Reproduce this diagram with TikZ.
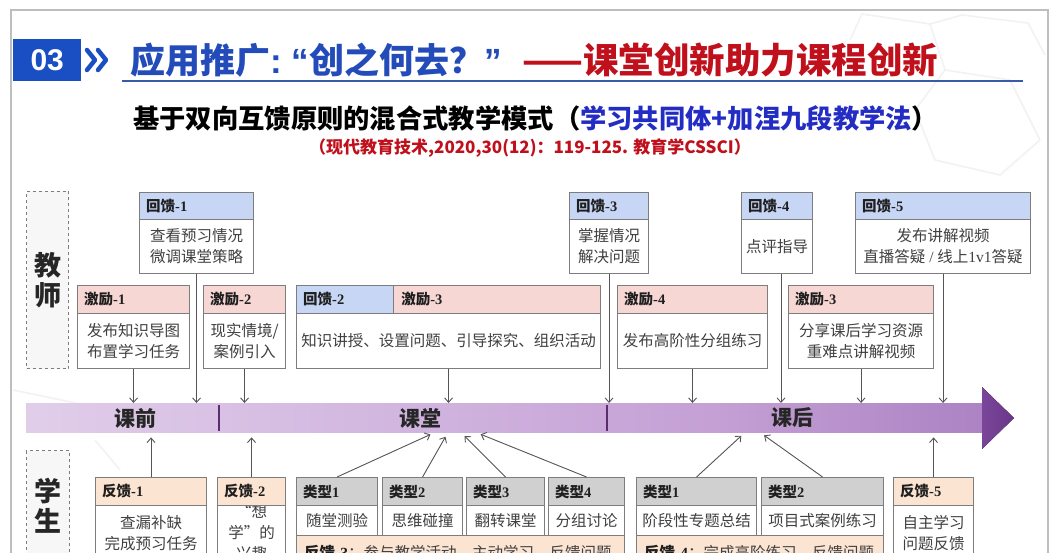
\documentclass[tikz,border=0pt]{standalone}
\usepackage{fontspec}
\setmainfont{Noto Sans CJK SC}
\newfontfamily\ser{Liberation Serif}
\newfontfamily\lsans{Liberation Sans}
\usetikzlibrary{arrows.meta,calc}
\definecolor{bord}{RGB}{125,125,125}
\definecolor{hblue}{RGB}{200,214,245}
\definecolor{hpink}{RGB}{247,215,212}
\definecolor{hpeach}{RGB}{251,228,209}
\definecolor{hgrey}{RGB}{208,208,208}
\definecolor{numblue}{RGB}{26,79,196}
\definecolor{tblue}{RGB}{35,75,185}
\definecolor{sblue}{RGB}{35,45,195}
\definecolor{tred}{RGB}{192,16,28}
\definecolor{ulblue}{RGB}{58,90,168}
\definecolor{arrc}{RGB}{85,85,85}
\definecolor{sepc}{RGB}{90,45,110}
\definecolor{hexc}{RGB}{242,242,242}
\definecolor{frame}{RGB}{190,190,190}
\definecolor{b1}{RGB}{240,232,244}
\definecolor{b2}{RGB}{228,212,236}
\definecolor{b3}{RGB}{212,186,225}
\definecolor{b4}{RGB}{196,160,213}
\definecolor{b5}{RGB}{164,120,189}
\definecolor{b6}{RGB}{122,70,153}
\definecolor{b7}{RGB}{106,54,138}
\pgfdeclarehorizontalshading{bandsh}{100bp}{color(0bp)=(b1); color(20bp)=(b2); color(41bp)=(b3); color(61bp)=(b4); color(80bp)=(b5); color(100bp)=(b6)}
\newcommand\hd[2]{{\bfseries #1}{\ser\bfseries #2}}
\newcommand\tbox[9]{%
  \node[bdy, minimum width=#4, minimum height=#6, anchor=north west] (#1b) at (#2,{#3+#5}) {};
  \node[bdytxt] (#1c) at (#1b.center) {#9};
  \node[hdr, fill=#7, minimum width=#4, minimum height=#5, anchor=north west] (#1h) at (#2,#3) {};
  \node[hdrtxt] (#1t) at ($(#1h.west)+(7,0)$) {#8};
}
\begin{document}
\begin{tikzpicture}[x=1pt,y=-1pt,
  hdr/.style={draw=bord, line width=1.1pt, inner sep=0pt},
  bdy/.style={draw=bord, line width=1.1pt, fill=white, inner sep=0pt},
  hdrtxt/.style={anchor=west, inner sep=0pt, font=\fontsize{14.5}{14.5}\selectfont, text=black!88},
  bdytxt/.style={align=center, inner sep=0pt, font=\fontsize{15.5}{21}\selectfont, text=black!75},
  arr/.style={draw=arrc, line width=0.9pt, -{Straight Barb[length=4.5pt,width=8pt]}},
  dashbox/.style={draw=bord, dashed, line width=1pt, fill=black!3, inner sep=0pt},
  roletxt/.style={align=center, inner sep=0pt, font=\bfseries\fontsize{27}{30}\selectfont, text=black!85},
  bandlbl/.style={inner sep=0pt, font=\bfseries\fontsize{21}{21}\selectfont, text=black!85},
  sepline/.style={draw=sepc, line width=2.4pt},
  hexline/.style={draw=hexc, line width=1.6pt},
  chev/.style={draw=numblue, line width=4.5pt, line cap=round, line join=round}
]
\useasboundingbox (0,0) rectangle (1051,553);
\clip (0,0) rectangle (1051,553);
\fill[white] (0,0) rectangle (1051,553);
% faint background lines
\draw[hexline] (962,15) -- (1028,23) -- (1045,55);
\draw[hexline] (850,40) -- (862,14) -- (930,24) -- (962,15);
\draw[hexline] (930,24) -- (945,70) -- (915,110) -- (935,160) -- (1000,175) -- (1040,140);
\draw[hexline] (945,70) -- (1010,80) -- (1040,140);
\draw[hexline] (13,390) -- (85,405);
\draw[hexline] (95,440) -- (120,470);
% frame
\draw[frame, line width=1.5pt] (11,10) rectangle (1048,620);
% title
\node[fill=numblue, minimum width=68, minimum height=42, anchor=north west, inner sep=0pt] (num) at (13,39) {};
\node[inner sep=0pt, text=white, font=\lsans\bfseries\fontsize{30}{30}\selectfont] (numt) at (num.center) {03};
\draw[chev] (87,50) -- (95,60) -- (87,70);
\draw[chev] (98,50) -- (106,60) -- (98,70);
\node[anchor=west, inner sep=0pt, text=tblue, font=\bfseries\fontsize{35}{35}\selectfont] (t1) at (130,60) {应用推广{\lsans\bfseries :\hspace{10pt}“}创之何去？{\lsans\bfseries ”}};
\node[anchor=west, inner sep=0pt, text=tred, font=\bfseries\fontsize{35.5}{35.5}\selectfont] (t2) at (522,60) {——课堂创新助力课程创新};
\draw[ulblue, line width=2pt] (122,81) -- (1023,81);
\node[anchor=west, inner sep=0pt, font=\bfseries\fontsize{26.3}{26.3}\selectfont] (st) at (133,118) {基于双向互馈原则的混合式教学模式（\textcolor{sblue}{学习共同体+加涅九段教学法}）};
\node[inner sep=0pt, text=tred, font=\bfseries\fontsize{17}{17}\selectfont] (cite) at (530,148) {（现代教育技术,2020,30(12)：119-125. 教育学CSSCI）};
% role boxes
\node[dashbox, minimum width=42, minimum height=177, anchor=north west] (tbx) at (26,191) {};
\node[roletxt] (ttx) at (tbx.center) {教\\师};
\node[dashbox, minimum width=43, minimum height=160, anchor=north west] (sbx) at (26,450) {};
\node[roletxt] (stx) at (47.5,506) {学\\生};
% band
\node[shading=bandsh, minimum width=957, minimum height=29, inner sep=0pt, anchor=north west] (band) at (26,403) {};
\fill[left color=b6, right color=b7] (982,387) -- (1014,418) -- (982,449) -- cycle;
\draw[sepline] (219,405) -- (219,431);
\draw[sepline] (607,405) -- (607,431);
\node[bandlbl] (lb1) at (135,418) {课前};
\node[bandlbl] (lb2) at (420,418) {课堂};
\node[bandlbl] (lb3) at (792,418) {课后};
% teacher row 1
\tbox{r1}{139}{192}{114}{27}{54}{hblue}{\hd{回馈}{-1}}{查看预习情况\\微调课堂策略}
\tbox{r3}{569}{192}{79}{27}{54}{hblue}{\hd{回馈}{-3}}{掌握情况\\解决问题}
\tbox{r4}{741}{192}{71}{27}{54}{hblue}{\hd{回馈}{-4}}{点评指导}
\tbox{r5}{855}{192}{175}{27}{54}{hblue}{\hd{回馈}{-5}}{发布讲解视频\\直播答疑{\ser\ /\ }线上{\ser 1v1}答疑}
% teacher row 2
\tbox{e1}{77}{285}{112}{28}{55}{hpink}{\hd{激励}{-1}}{发布知识导图\\布置学习任务}
\tbox{e2}{203}{285}{82}{28}{55}{hpink}{\hd{激励}{-2}}{现实情境/\\案例引入}
\tbox{e3}{296}{285}{304}{28}{55}{hpink}{}{知识讲授、设置问题、引导探究、组织活动}
\node[hdr, fill=hblue, minimum width=97, minimum height=28, anchor=north west] (e3x) at (296,285) {};
\node[hdrtxt] (e3xt) at ($(e3x.west)+(7,0)$) {\hd{回馈}{-2}};
\node[hdrtxt] (e3yt) at ($(e3x.east)+(7,0)$) {\hd{激励}{-3}};
\tbox{e4}{617}{285}{150}{28}{55}{hpink}{\hd{激励}{-4}}{发布高阶性分组练习}
\tbox{e5}{788}{285}{145}{28}{55}{hpink}{\hd{激励}{-3}}{分享课后学习资源\\重难点讲解视频}
% student row
\tbox{f1}{95}{477}{111}{28}{55}{hpeach}{\hd{反馈}{-1}}{查漏补缺\\完成预习任务}
\tbox{f2}{217}{477}{68}{28}{54}{hpeach}{\hd{反馈}{-2}}{“想\\学”的\\兴趣}
\tbox{k1}{296}{477}{81}{28}{30}{hgrey}{\hd{类型}{1}}{随堂测验}
\tbox{k2}{382}{477}{80}{28}{30}{hgrey}{\hd{类型}{2}}{思维碰撞}
\tbox{k3}{466}{477}{78}{28}{30}{hgrey}{\hd{类型}{3}}{翻转课堂}
\tbox{k4}{548}{477}{76}{28}{30}{hgrey}{\hd{类型}{4}}{分组讨论}
\tbox{k5}{636}{477}{120}{28}{30}{hgrey}{\hd{类型}{1}}{阶段性专题总结}
\tbox{k6}{761}{477}{122}{28}{30}{hgrey}{\hd{类型}{2}}{项目式案例练习}
\tbox{f5}{893}{477}{80}{28}{55}{hpeach}{\hd{反馈}{-5}}{自主学习\\问题反馈}
\node[bdy, fill=hpeach, minimum width=328, minimum height=40, anchor=north west] (f3) at (296,535) {};
\node[anchor=west, inner sep=0pt, font=\fontsize{15.5}{15.5}\selectfont, text=black!75] (f3t) at (304,553) {{\color{black!88}\hd{反馈}{-3}}：参与教学活动、主动学习、反馈问题};
\node[bdy, fill=hpeach, minimum width=247, minimum height=40, anchor=north west] (f4) at (636,535) {};
\node[anchor=west, inner sep=0pt, font=\fontsize{15.5}{15.5}\selectfont, text=black!75] (f4t) at (644,553) {{\color{black!88}\hd{反馈}{-4}}：完成高阶练习、反馈问题};
% down arrows
\draw[arr] (e1b.south) -- (e1b.south |- band.north);
\draw[arr] (r1b.south) -- (r1b.south |- band.north);
\draw[arr] (e2b.south) -- (e2b.south |- band.north);
\draw[arr] (e3b.south) -- (e3b.south |- band.north);
\draw[arr] (r3b.south) -- (r3b.south |- band.north);
\draw[arr] (e4b.south) -- (e4b.south |- band.north);
\draw[arr] (r4b.south -| 781,0) -- (band.north -| 781,0);
\draw[arr] (e5b.south) -- (e5b.south |- band.north);
\draw[arr] (r5b.south) -- (r5b.south |- band.north);
% up arrows
\draw[arr, shorten >=5pt] (f1h.north) -- (f1h.north |- band.south);
\draw[arr, shorten >=5pt] (f2h.north) -- (f2h.north |- band.south);
\draw[arr, shorten >=5pt] (f5h.north) -- (f5h.north |- band.south);
\draw[arr, shorten >=5pt] (k1h.north) -- (band.south -| 435,0);
\draw[arr, shorten >=5pt] (k2h.north) -- (band.south -| 448,0);
\draw[arr, shorten >=5pt] (k3h.north) -- (band.south -| 461,0);
\draw[arr, shorten >=5pt] (k4h.north) -- (band.south -| 476,0);
\draw[arr, shorten >=5pt] (k5h.north) -- (band.south -| 745,0);
\draw[arr, shorten >=5pt] (k6h.north) -- (band.south -| 760,0);
\end{tikzpicture}
\end{document}
